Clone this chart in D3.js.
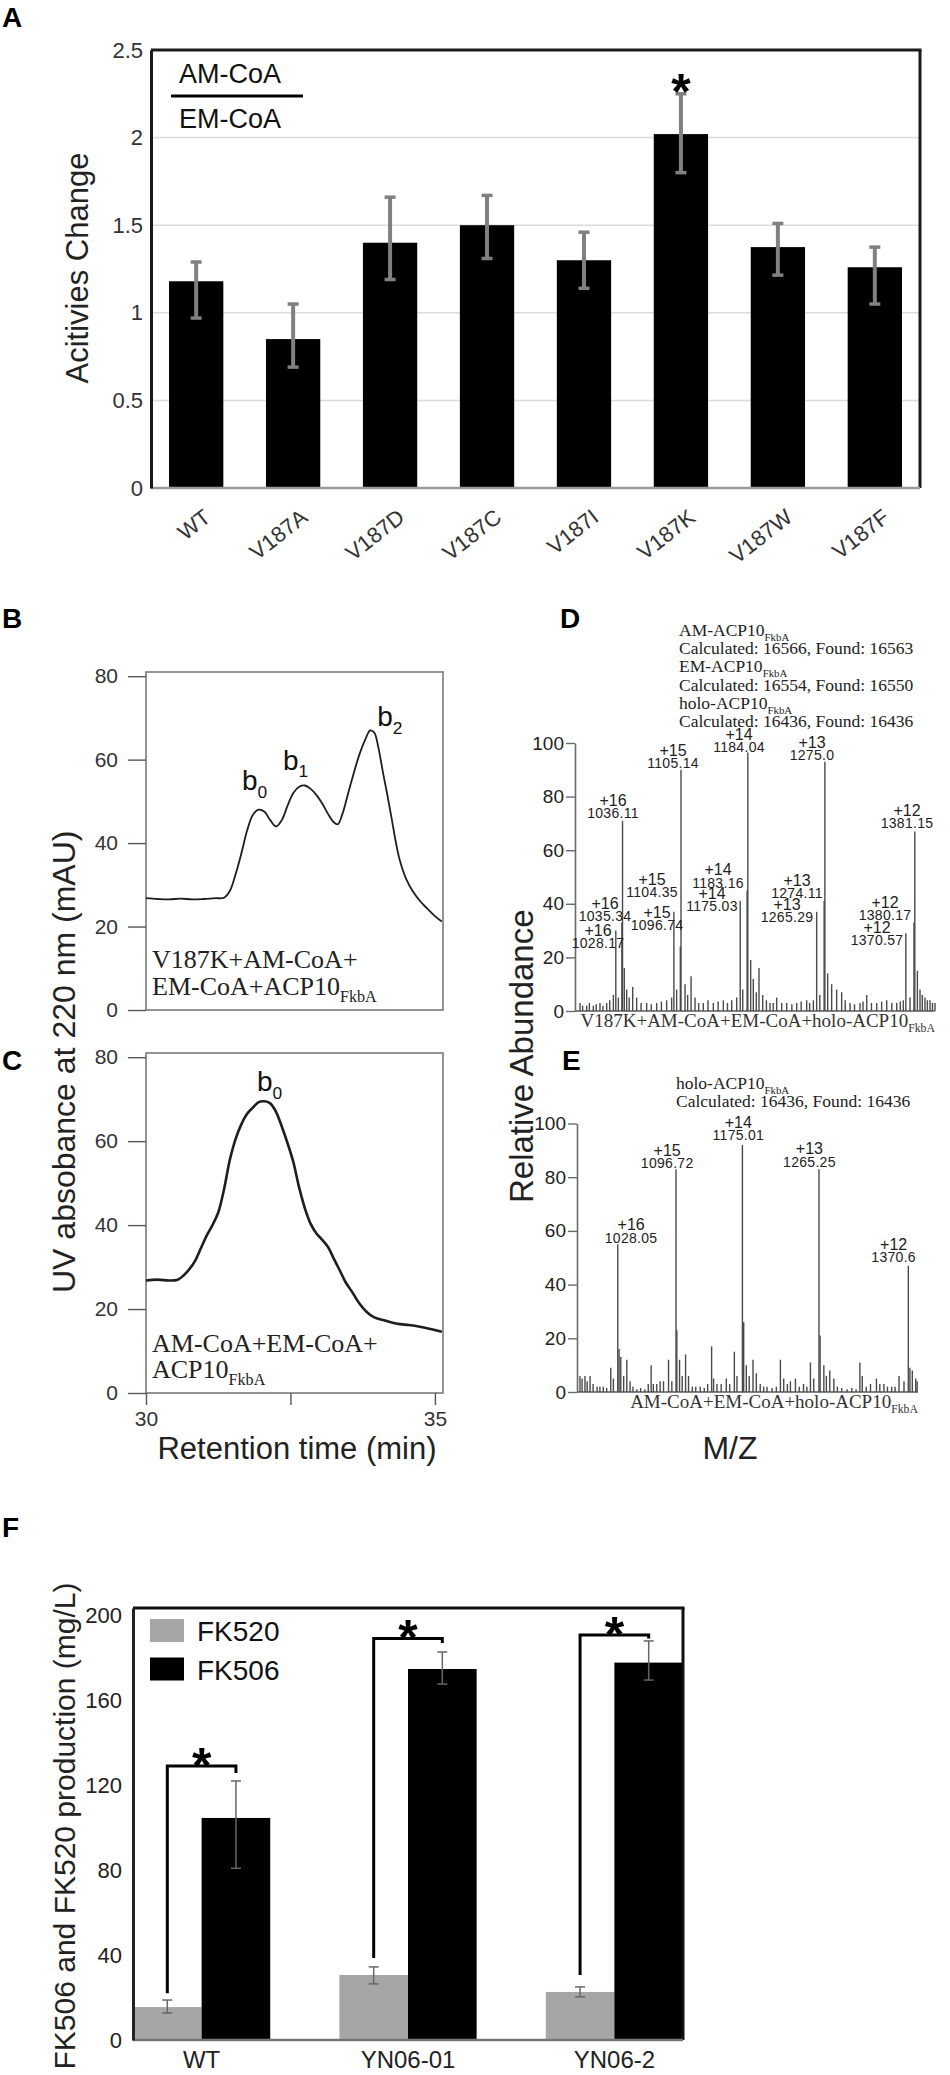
<!DOCTYPE html>
<html><head><meta charset="utf-8">
<script src="https://cdn.jsdelivr.net/npm/d3@7"></script>
<style>body{margin:0;background:#fff} svg{display:block}</style>
</head><body><svg id="fig" width="950" height="2075"></svg>
<script>
// ---------------- DATA ----------------
// Panel A
const mutants = ["WT","V187A","V187D","V187C","V187I","V187K","V187W","V187F"];
const ratioMean = [1.18, 0.85, 1.40, 1.50, 1.30, 2.02, 1.375, 1.26];
const ratioLow  = [0.97, 0.69, 1.19, 1.31, 1.14, 1.80, 1.215, 1.05];
const ratioHigh = [1.29, 1.05, 1.66, 1.67, 1.46, 2.25, 1.51, 1.375];
const ratioSig  = ["", "", "", "", "", "*", "", ""];
const ratioTicks = [0, 0.5, 1, 1.5, 2, 2.5];

// Panel B (V187K reaction) HPLC trace
const hplcB_t = [30.0,30.2,30.4,30.6,30.8,31.0,31.2,31.35,31.45,31.55,31.65,31.75,31.85,31.95,32.05,32.15,32.25,32.35,32.45,32.55,32.65,32.75,32.85,32.95,33.05,33.15,33.25,33.32,33.4,33.5,33.6,33.7,33.8,33.88,33.95,34.02,34.1,34.17,34.25,34.32,34.39,34.5,34.62,34.75,34.86,35.0,35.12];
const hplcB_v = [26.8,26.6,26.5,26.7,26.5,26.6,26.8,26.9,28.5,32.5,37.5,43.0,46.8,48.0,47.5,45.5,44.0,45.5,49.0,52.0,53.5,53.8,53.0,51.5,49.5,47.0,45.0,44.5,47.0,52.0,57.0,61.5,65.0,67.0,66.5,63.0,57.0,52.0,46.0,40.5,36.0,31.5,28.4,26.0,24.4,22.5,21.2];
const hplcB_peaks = ["0","1","2"];
const hplcB_peakT = [31.66, 32.37, 34.0];
const hplcB_peakV = [52.8, 57.6, 68.0];

// Panel C (control) HPLC trace
const hplcC_t = [30.0,30.2,30.4,30.55,30.65,30.75,30.85,30.95,31.05,31.15,31.25,31.35,31.45,31.55,31.65,31.75,31.85,31.95,32.05,32.15,32.25,32.35,32.45,32.55,32.65,32.75,32.85,32.95,33.05,33.15,33.25,33.35,33.45,33.58,33.7,33.82,33.95,34.1,34.25,34.4,34.55,34.74,34.9,35.0,35.12];
const hplcC_v = [26.8,27.0,26.8,27.0,28.0,29.5,31.5,34.5,37.5,40.0,43.0,48.5,55.5,60.5,64.0,66.5,68.0,69.3,69.5,69.0,67.0,63.5,59.5,55.0,49.0,44.0,40.3,38.0,36.5,34.8,32.0,29.3,26.5,23.8,21.2,19.3,18.0,17.4,16.8,16.4,16.2,15.8,15.3,15.0,14.6];
const hplcC_peaks = ["0"];
const hplcC_peakT = [31.92];
const hplcC_peakV = [72.0];
const hplcTicksY = [0, 20, 40, 60, 80];
const hplcTicksX = [30, 32.5, 35];

// Panel D mass spectrum (m/z, relative abundance)
const msD_mz  = [985.9,989,993.8,997,1001.6,1005,1009.5,1013,1017.4,1021,1025.3,1028.17,1031.2,1035.34,1036.11,1038.2,1041,1044,1048.1,1052.8,1058,1064.6,1070,1076.4,1082,1088.2,1094.1,1096.74,1100,1104.35,1105.14,1109.9,1113,1117,1121.7,1126,1131.5,1137,1143.3,1149,1155.1,1160,1165,1170.9,1175.03,1178,1183.16,1184.04,1187.4,1190.5,1194,1197.2,1201.6,1206,1210.2,1214,1218.1,1224,1229.9,1236,1241.7,1247,1253.5,1257,1261.4,1265.29,1269,1274.11,1275.0,1278.3,1283,1288.9,1294.8,1299,1304.7,1310,1316.5,1320,1324.4,1330,1336.2,1342,1348,1354,1359.8,1364,1367.6,1370.57,1375.5,1380.17,1381.15,1384.2,1387.3,1390,1393.2,1396,1399.1,1402,1405];
const msD_int = [3,2,2,3,2,2.5,3,2,3,4,6,30,5,33,71,16,8,5,9,5,3,3,2.5,3,3.5,4,5,37,8,24,90,10,6,13,5,3,3,4,3,3.5,4,3,4,5,41,8,45,96.5,19,12,7,16,6,4,3,3,5,3,3,2.5,3,3.5,4,3,4,37,6,41,93,14,10,8,7,4,3,2.5,3,3.5,6,3,3,3.5,4,3,3,3.5,4,29,5,33,67,15,8,6,5,4,4,3,3];
const msD_lblZ  = ["+15","+14","+13","+16","+12","+15","+14","+14","+13","+13","+16","+15","+16","+12","+12"];
const msD_lblMz = ["1105.14","1184.04","1275.0","1036.11","1381.15","1104.35","1183.16","1175.03","1274.11","1265.29","1035.34","1096.74","1028.17","1380.17","1370.57"];
const msD_lblX  = [1095.7,1173.6,1259.8,1024.9,1372,1070.9,1148.8,1141.7,1242.1,1230.3,1015.4,1076.8,1007.2,1346,1336.6];
const msD_lblY  = [92.5,98.5,95.5,73.9,70.1,44.4,47.8,39.2,44,35.1,35.4,32.1,25.4,35.8,26.5];
const msD_note = [["AM-ACP10","FkbA"],["Calculated: 16566, Found: 16563",""],["EM-ACP10","FkbA"],["Calculated: 16554, Found: 16550",""],["holo-ACP10","FkbA"],["Calculated: 16436, Found: 16436",""]];

// Panel E mass spectrum
const msE_mz  = [983.5,986,989.4,992,995.4,999,1003.7,1007,1011,1015,1019.8,1022.9,1028.05,1029.6,1031.6,1035,1038.7,1042.6,1046,1050.5,1055,1060,1064,1067.4,1070,1074,1078,1082,1087.9,1091.8,1096.72,1097.7,1100.9,1104,1108,1111.5,1116,1120,1125.3,1130,1134,1138.7,1141,1145,1150,1156,1160,1165.5,1168.6,1175.01,1176.5,1179.6,1183,1187.5,1191.4,1196,1200,1204,1210,1215,1219.8,1223.7,1228,1231.6,1237.5,1242,1247,1251,1255.2,1259.1,1265.25,1266.6,1271,1274,1278,1282.8,1287,1292,1298.5,1304,1309,1313.5,1316.3,1321,1326,1333,1337,1341.8,1346,1351,1355,1359.6,1365.5,1370.6,1372.5,1375.3,1379.3,1381];
const msE_int = [6,5,6,4,6,3,2,2,2,1.5,9,5,55,16,13,6,12,4,2,1,1.5,1,3,10,3,3,4,4,12,4,83,23,12,6,14,6,2,2,2,1.5,3,17,5,3,3,5,3,15,6,92,26,10,6,12,7,3,2,2,1.5,2,12,5,3,4,5,2,3,2,11,5,83,21,10,6,8,5,2,1.5,1,1.5,1,11,6,2,3,5,3,3,2,2,2,6,4,47,9,8,5,4];
const msE_lblZ  = ["+16","+15","+14","+13","+12"];
const msE_lblMz = ["1028.05","1096.72","1175.01","1265.25","1370.6"];
const msE_lblX  = [1043.8,1086.3,1170.2,1254,1353.3];
const msE_lblY  = [57.4,85.3,95.5,85.7,50.3];
const msE_note = [["holo-ACP10","FkbA"],["Calculated: 16436, Found: 16436",""]];
const msTicksY = [0, 20, 40, 60, 80, 100];

// Panel F
const strains = ["WT","YN06-01","YN06-2"];
const compounds = ["FK520","FK506"];
const fk520Mean = [15.5, 30.6, 22.6];
const fk520Low  = [12.7, 26.4, 20.3];
const fk520High = [18.8, 34.4, 25.0];
const fk506Mean = [104.5, 174.6, 177.6];
const fk506Low  = [80.8, 167.5, 169.4];
const fk506High = [121.9, 182.6, 187.8];
const sigTop    = [129, 189, 190.6];
const sigLeftStart = [22, 38.6, 30.6];
const sigRightEnd  = [125.6, 186.8, 189];
const prodTicks = [0, 40, 80, 120, 160, 200];

// ---------------- DRAWING ----------------
const SANS = '"Liberation Sans", Arial, Helvetica, sans-serif';
const SERIF = '"Liberation Serif", "Times New Roman", serif';
const svg = d3.select("#fig");
svg.append("rect").attr("width", 950).attr("height", 2075).attr("fill", "#fff");

function letter(t, x, y) {
  svg.append("text").attr("x", x).attr("y", y).attr("font-family", SANS)
    .attr("font-weight", "bold").attr("font-size", 28).attr("fill", "#000").text(t);
}
function subText(parent, x, y, main, sub, size, family, anchor, fill) {
  const t = parent.append("text").attr("x", x).attr("y", y).attr("font-family", family)
    .attr("font-size", size).attr("text-anchor", anchor || "start").attr("fill", fill || "#111");
  t.append("tspan").text(main);
  if (sub) t.append("tspan").attr("font-size", size * 0.62).attr("dy", size * 0.28).text(sub);
  return t;
}

// ===== Panel A =====
letter("A", 2, 27);
const gA = svg.append("g");
const xA = d3.scaleBand().domain(mutants).range([151, 920]).paddingInner(0.44).paddingOuter(0.186);
const yA = d3.scaleLinear().domain([0, 2.5]).range([488, 50]);
gA.selectAll("line.grid").data(ratioTicks.filter(d => d > 0 && d < 2.5)).join("line")
  .attr("x1", 151).attr("x2", 920).attr("y1", d => yA(d)).attr("y2", d => yA(d))
  .attr("stroke", "#dcdcdc").attr("stroke-width", 1.5);
gA.selectAll("rect.bar").data(mutants).join("rect")
  .attr("x", d => xA(d)).attr("width", xA.bandwidth())
  .attr("y", (d, i) => yA(ratioMean[i])).attr("height", (d, i) => yA(0) - yA(ratioMean[i]))
  .attr("fill", "#000");
const cA = d => xA(d) + xA.bandwidth() / 2;
gA.selectAll("line.err").data(mutants).join("line")
  .attr("x1", cA).attr("x2", cA).attr("y1", (d, i) => yA(ratioLow[i])).attr("y2", (d, i) => yA(ratioHigh[i]))
  .attr("stroke", "#808080").attr("stroke-width", 4);
[ratioLow, ratioHigh].forEach(arr => {
  gA.append("g").selectAll("line").data(mutants).join("line")
    .attr("x1", d => cA(d) - 5.5).attr("x2", d => cA(d) + 5.5)
    .attr("y1", (d, i) => yA(arr[i])).attr("y2", (d, i) => yA(arr[i]))
    .attr("stroke", "#808080").attr("stroke-width", 3.5);
});
gA.selectAll("text.sig").data(mutants).join("text")
  .attr("x", cA).attr("y", (d, i) => yA(ratioHigh[i]) + 15)
  .attr("text-anchor", "middle").attr("font-family", SANS).attr("font-weight", "bold")
  .attr("font-size", 50).attr("fill", "#000").text((d, i) => ratioSig[i]);
// frame
gA.append("line").attr("x1", 151).attr("x2", 921.5).attr("y1", 50).attr("y2", 50).attr("stroke", "#1a1a1a").attr("stroke-width", 3);
gA.append("line").attr("x1", 920).attr("x2", 920).attr("y1", 50).attr("y2", 488).attr("stroke", "#1a1a1a").attr("stroke-width", 3);
gA.append("line").attr("x1", 151).attr("x2", 920).attr("y1", 488).attr("y2", 488).attr("stroke", "#9a9a9a").attr("stroke-width", 2.5);
const axA = gA.append("g").attr("transform", "translate(151,0)")
  .call(d3.axisLeft(yA).tickValues(ratioTicks).tickSize(0).tickPadding(8).tickFormat(d3.format("")));
axA.select(".domain").attr("stroke", "#1a1a1a").attr("stroke-width", 3);
axA.selectAll("text").attr("font-family", SANS).attr("font-size", 22).attr("fill", "#333");
gA.selectAll("text.xl").data(mutants).join("text")
  .attr("transform", d => `translate(${cA(d) + 16},${520}) rotate(-38)`)
  .attr("text-anchor", "end").attr("font-family", SANS).attr("font-size", 22).attr("fill", "#333")
  .text(d => d);
gA.append("text").attr("transform", "translate(88,268) rotate(-90)").attr("text-anchor", "middle")
  .attr("font-family", SANS).attr("font-size", 31).attr("fill", "#222").text("Acitivies Change");
gA.append("text").attr("x", 179).attr("y", 83).attr("font-family", SANS).attr("font-size", 27).attr("fill", "#111").text("AM-CoA");
gA.append("line").attr("x1", 171).attr("x2", 303).attr("y1", 96).attr("y2", 96).attr("stroke", "#000").attr("stroke-width", 3);
gA.append("text").attr("x", 179).attr("y", 128).attr("font-family", SANS).attr("font-size", 27).attr("fill", "#111").text("EM-CoA");

// ===== Panels B & C (HPLC) =====
const xBC = d3.scaleLinear().domain([30, 35.14]).range([146, 443]);
function hplcPanel(top, bottom, tArr, vArr, peaks, pkT, pkV, lines, strokeW, xAxis) {
  const g = svg.append("g");
  const y = d3.scaleLinear().domain([0, 81]).range([bottom, top]);
  g.append("rect").attr("x", 146).attr("y", top).attr("width", 297).attr("height", bottom - top)
    .attr("fill", "none").attr("stroke", "#7a7a7a").attr("stroke-width", 1.6);
  const ax = g.append("g").attr("transform", "translate(146,0)")
    .call(d3.axisLeft(y).tickValues(hplcTicksY).tickSize(18).tickSizeOuter(0).tickPadding(10));
  ax.select(".domain").remove();
  ax.selectAll("line").attr("stroke", "#555").attr("stroke-width", 1.4);
  ax.selectAll("text").attr("font-family", SANS).attr("font-size", 21).attr("fill", "#333");
  if (xAxis) {
    const axx = g.append("g").attr("transform", `translate(0,${bottom})`)
      .call(d3.axisBottom(xBC).tickValues(hplcTicksX).tickSize(12).tickSizeOuter(0).tickPadding(6)
        .tickFormat(d => (d === 32.5 ? "" : d)));
    axx.select(".domain").remove();
    axx.selectAll("line").attr("stroke", "#555").attr("stroke-width", 1.4);
    axx.selectAll("text").attr("font-family", SANS).attr("font-size", 21).attr("fill", "#333");
  }
  const pts = tArr.map((t, i) => [t, vArr[i]]);
  g.append("path").datum(pts)
    .attr("d", d3.line().x(d => xBC(d[0])).y(d => y(d[1])).curve(d3.curveCatmullRom.alpha(0.5)))
    .attr("fill", "none").attr("stroke", "#1e1e1e").attr("stroke-width", strokeW);
  peaks.forEach((p, i) => {
    subText(g, xBC(pkT[i]), y(pkV[i]), "b", p, 28, SANS, "start", "#111");
  });
  lines.forEach(l => subText(g, 152, y(l.v), l.main, l.sub, 26, SERIF, "start", "#222"));
  return y;
}
letter("B", 2, 628);
hplcPanel(672, 1010, hplcB_t, hplcB_v, hplcB_peaks, hplcB_peakT, hplcB_peakV,
  [{v: 10.1, main: "V187K+AM-CoA+", sub: ""}, {v: 3.6, main: "EM-CoA+ACP10", sub: "FkbA"}], 1.8, false);
letter("C", 2, 1070);
hplcPanel(1053, 1393, hplcC_t, hplcC_v, hplcC_peaks, hplcC_peakT, hplcC_peakV,
  [{v: 9.8, main: "AM-CoA+EM-CoA+", sub: ""}, {v: 3.6, main: "ACP10", sub: "FkbA"}], 2.6, true);
svg.append("text").attr("transform", "translate(75,1293) rotate(-90)").attr("text-anchor", "start")
  .attr("font-family", SANS).attr("font-size", 32).attr("fill", "#222").text("UV absobance at 220 nm (mAU)");
svg.append("text").attr("x", 297).attr("y", 1459).attr("text-anchor", "middle")
  .attr("font-family", SANS).attr("font-size", 31).attr("fill", "#222").text("Retention time (min)");

// ===== Panels D & E (MS) =====
function msPanel(x0, x1, xmax, yBottom, yTop, mzArr, intArr, lz, lmz, lx, ly, caption, note, noteX, noteY) {
  const g = svg.append("g");
  const x = d3.scaleLinear().domain([980, xmax]).range([x0, x1]);
  const y = d3.scaleLinear().domain([0, 100]).range([yBottom, yTop]);
  g.append("line").attr("x1", x0).attr("x2", x1).attr("y1", yBottom).attr("y2", yBottom)
    .attr("stroke", "#5a5a5a").attr("stroke-width", 1.6);
  g.selectAll("line.pk").data(mzArr).join("line")
    .attr("x1", d => x(d)).attr("x2", d => x(d)).attr("y1", yBottom).attr("y2", (d, i) => y(intArr[i]))
    .attr("stroke", "#4a4a4a").attr("stroke-width", 1.4);
  const ax = g.append("g").attr("transform", `translate(${x0},0)`)
    .call(d3.axisLeft(y).tickValues(msTicksY).tickSize(9).tickSizeOuter(0).tickPadding(2));
  ax.select(".domain").attr("stroke", "#6a6a6a").attr("stroke-width", 1.6);
  ax.selectAll("line").attr("stroke", "#6a6a6a").attr("stroke-width", 1.4);
  ax.selectAll("text").attr("font-family", SANS).attr("font-size", 19).attr("fill", "#222");
  lz.forEach((z, i) => {
    g.append("text").attr("x", x(lx[i])).attr("y", y(ly[i]) - 13).attr("dy", "0.35em").attr("text-anchor", "middle")
      .attr("font-family", SANS).attr("font-size", 16).attr("fill", "#222").text(z);
    g.append("text").attr("x", x(lx[i])).attr("y", y(ly[i])).attr("dy", "0.35em").attr("text-anchor", "middle")
      .attr("font-family", SANS).attr("font-size", 14).attr("letter-spacing", 0.3).attr("fill", "#222").text(lmz[i]);
  });
  subText(g, x1, yBottom + 16, caption[0], caption[1], 19, SERIF, "end", "#333");
  note.forEach((n, i) => subText(g, noteX, noteY + i * 18.2, n[0], n[1], 17.5, SERIF, "start", "#222"));
}
letter("D", 560, 628);
msPanel(575, 935, 1405, 1011, 743, msD_mz, msD_int, msD_lblZ, msD_lblMz, msD_lblX, msD_lblY,
  ["V187K+AM-CoA+EM-CoA+holo-ACP10", "FkbA"], msD_note, 679, 636);
letter("E", 562, 1070);
msPanel(577, 918, 1382, 1392, 1123.5, msE_mz, msE_int, msE_lblZ, msE_lblMz, msE_lblX, msE_lblY,
  ["AM-CoA+EM-CoA+holo-ACP10", "FkbA"], msE_note, 676, 1089);
svg.append("text").attr("transform", "translate(533,1203) rotate(-90)").attr("text-anchor", "start")
  .attr("font-family", SANS).attr("font-size", 33).attr("fill", "#222").text("Relative Abundance");
svg.append("text").attr("x", 730).attr("y", 1459).attr("text-anchor", "middle")
  .attr("font-family", SANS).attr("font-size", 32).attr("fill", "#222").text("M/Z");

// ===== Panel F =====
letter("F", 2, 1537);
const gF = svg.append("g");
const xF = d3.scaleBand().domain(strains).range([133, 683]).paddingInner(0.335).paddingOuter(0);
const xF2 = d3.scaleBand().domain(compounds).range([0, xF.bandwidth()]);
const yF = d3.scaleLinear().domain([0, 203.3]).range([2040, 1608]);
const colF = {FK520: "#a6a6a6", FK506: "#000"};
const series = [
  {k: "FK520", mean: fk520Mean, low: fk520Low, high: fk520High},
  {k: "FK506", mean: fk506Mean, low: fk506Low, high: fk506High}
];
series.forEach(s => {
  gF.append("g").selectAll("rect").data(strains).join("rect")
    .attr("x", d => xF(d) + xF2(s.k)).attr("width", xF2.bandwidth())
    .attr("y", (d, i) => yF(s.mean[i])).attr("height", (d, i) => yF(0) - yF(s.mean[i]))
    .attr("fill", colF[s.k]);
});
series.forEach(s => {
  const cx = d => xF(d) + xF2(s.k) + xF2.bandwidth() / 2;
  const ge = gF.append("g").attr("stroke", "#666").attr("stroke-width", 1.5);
  ge.selectAll("line.v").data(strains).join("line")
    .attr("x1", cx).attr("x2", cx).attr("y1", (d, i) => yF(s.low[i])).attr("y2", (d, i) => yF(s.high[i]));
  [s.low, s.high].forEach(arr => {
    ge.append("g").selectAll("line").data(strains).join("line")
      .attr("x1", d => cx(d) - 5).attr("x2", d => cx(d) + 5)
      .attr("y1", (d, i) => yF(arr[i])).attr("y2", (d, i) => yF(arr[i]));
  });
});
// significance brackets
strains.forEach((d, i) => {
  const xl = xF(d) + xF2("FK520") + xF2.bandwidth() / 2;
  const xr = xF(d) + xF2("FK506") + xF2.bandwidth() / 2;
  gF.append("path")
    .attr("d", `M${xl},${yF(sigLeftStart[i])}V${yF(sigTop[i])}H${xr}V${yF(sigRightEnd[i])}`)
    .attr("fill", "none").attr("stroke", "#000").attr("stroke-width", 3);
  gF.append("text").attr("x", (xl + xr) / 2).attr("y", yF(sigTop[i]) + 17).attr("text-anchor", "middle")
    .attr("font-family", SANS).attr("font-weight", "bold").attr("font-size", 50).attr("fill", "#000").text("*");
});
// frame
gF.append("line").attr("x1", 133).attr("x2", 684.5).attr("y1", 1608).attr("y2", 1608).attr("stroke", "#111").attr("stroke-width", 3);
gF.append("line").attr("x1", 683).attr("x2", 683).attr("y1", 1608).attr("y2", 2040).attr("stroke", "#111").attr("stroke-width", 3);
gF.append("line").attr("x1", 133).attr("x2", 683).attr("y1", 2040).attr("y2", 2040).attr("stroke", "#777").attr("stroke-width", 2.5);
const axF = gF.append("g").attr("transform", "translate(133,0)")
  .call(d3.axisLeft(yF).tickValues(prodTicks).tickSize(0).tickPadding(11));
axF.select(".domain").attr("stroke", "#222").attr("stroke-width", 3);
axF.selectAll("text").attr("font-family", SANS).attr("font-size", 22).attr("fill", "#222");
gF.selectAll("text.xl").data(strains).join("text")
  .attr("x", d => xF(d) + xF.bandwidth() / 2).attr("y", 2068).attr("text-anchor", "middle")
  .attr("font-family", SANS).attr("font-size", 24).attr("fill", "#222").text(d => d);
gF.append("text").attr("transform", "translate(75,1826) rotate(-90)").attr("text-anchor", "middle")
  .attr("font-family", SANS).attr("font-size", 30).attr("fill", "#222").text("FK506 and FK520 production (mg/L)");
compounds.forEach((c, i) => {
  gF.append("rect").attr("x", 150).attr("y", 1619 + i * 38.5).attr("width", 34).attr("height", 23).attr("fill", colF[c]);
  gF.append("text").attr("x", 197).attr("y", 1631 + i * 38.5).attr("dy", "0.36em")
    .attr("font-family", SANS).attr("font-size", 28).attr("fill", "#111").text(c);
});
</script></body></html>
